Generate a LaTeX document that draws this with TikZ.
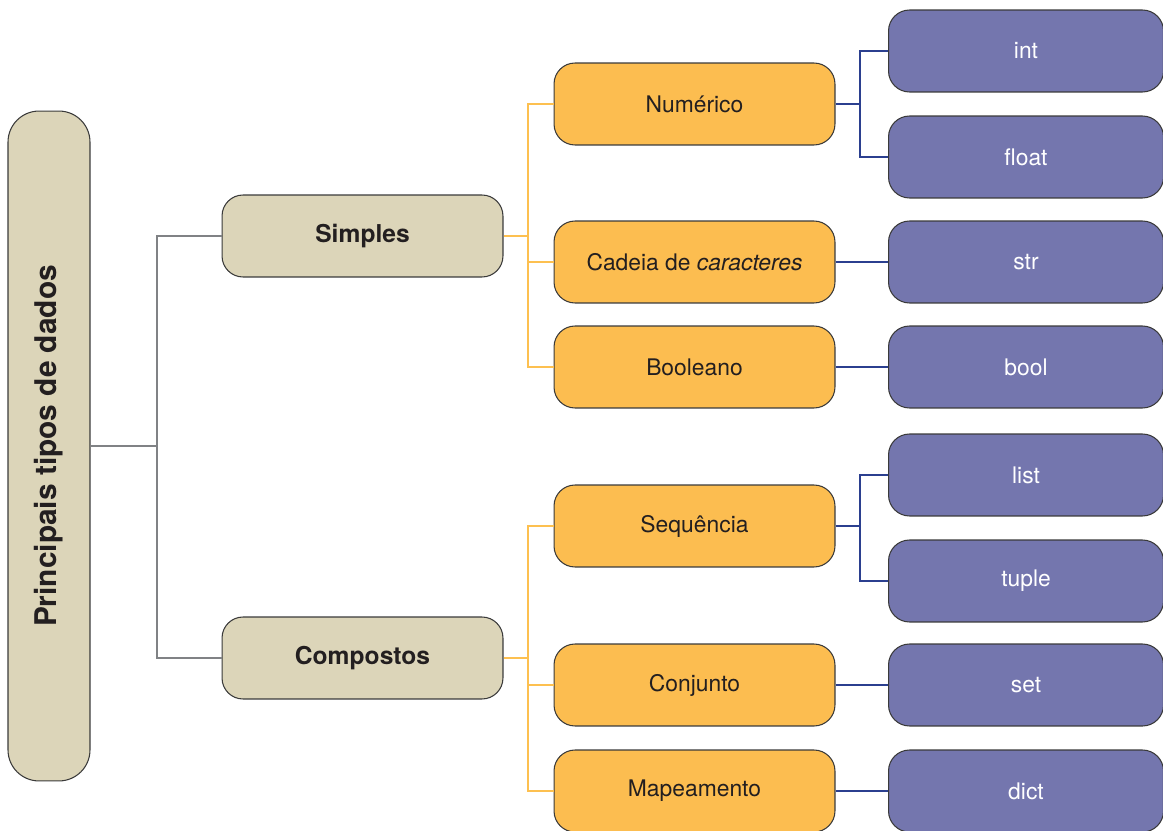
\documentclass[tikz,border=0pt]{standalone}
\usepackage{graphicx}
\usepackage{fontspec}
\setmainfont{TeX Gyre Heros}

\definecolor{rootfill}{HTML}{DCD5B9}
\definecolor{kindfill}{HTML}{FCBD50}
\definecolor{pyfill}{HTML}{7476AE}
\definecolor{boxline}{HTML}{3A3A3A}
\definecolor{graylink}{HTML}{808285}
\definecolor{orangelink}{HTML}{FDC050}
\definecolor{bluelink}{HTML}{2B3F8F}
\definecolor{textdark}{HTML}{231F20}

\begin{document}
\begin{tikzpicture}[x=0.02cm, y=-0.02cm,
    box/.style={draw=boxline, line width=0.6pt, rounded corners=0.42cm, align=center,
      inner sep=0pt, text=textdark, font=\fontsize{13}{15}\selectfont},
    rootbox/.style={box, fill=rootfill, minimum width=1.64cm, minimum height=13.4cm,
      rounded corners=0.62cm, font=\bfseries\fontsize{17}{19}\selectfont},
    groupbox/.style={box, fill=rootfill, minimum width=5.62cm, minimum height=1.64cm,
      font=\bfseries\fontsize{14}{16}\selectfont},
    kindbox/.style={box, fill=kindfill, minimum width=5.62cm, minimum height=1.64cm},
    pybox/.style={box, fill=pyfill, minimum width=5.5cm, minimum height=1.64cm, text=white},
    graylinkline/.style={draw=graylink, line width=1.5pt},
    orangelinkline/.style={draw=orangelink, line width=1.6pt},
    bluelinkline/.style={draw=bluelink, line width=1.6pt}]

    \clip (0, 0) rectangle (1163, 831);

    % root and the two groups
    \node[rootbox] (root) at (49, 446) {\rotatebox{90}{Principais tipos de dados}};
    \node[groupbox] (simples) at (362.5, 236) {Simples};
    \node[groupbox] (compostos) at (362.5, 658) {Compostos};

    % kinds
    \node[kindbox] (numerico) at (694.5, 104) {Numérico};
    \node[kindbox] (cadeia) at (694.5, 262) {Cadeia de \textit{caracteres}};
    \node[kindbox] (booleano) at (694.5, 367) {Booleano};
    \node[kindbox] (sequencia) at (694.5, 526) {Sequência};
    \node[kindbox] (conjunto) at (694.5, 685) {Conjunto};
    \node[kindbox] (mapeamento) at (694.5, 791) {Mapeamento};

    % python types
    \node[pybox] (int) at (1026, 51) {int};
    \node[pybox] (float) at (1026, 157) {float};
    \node[pybox] (str) at (1026, 262) {str};
    \node[pybox] (bool) at (1026, 367) {bool};
    \node[pybox] (list) at (1026, 475) {list};
    \node[pybox] (tuple) at (1026, 581) {tuple};
    \node[pybox] (set) at (1026, 685) {set};
    \node[pybox] (dict) at (1026, 791) {dict};

    % connectors
    \coordinate (rootfork) at (157, 446);
    \draw[graylinkline] (root.east) -- (rootfork) |- (simples.west);
    \draw[graylinkline] (rootfork) |- (compostos.west);

    \coordinate (simplesfork) at (528, 236);
    \draw[orangelinkline] (simples.east) -- (simplesfork);
    \foreach \kind in {numerico, cadeia, booleano}
      \draw[orangelinkline] (simplesfork) |- (\kind.west);

    \coordinate (compostosfork) at (528, 658);
    \draw[orangelinkline] (compostos.east) -- (compostosfork);
    \foreach \kind in {sequencia, conjunto, mapeamento}
      \draw[orangelinkline] (compostosfork) |- (\kind.west);

    \coordinate (numericofork) at (860, 104);
    \draw[bluelinkline] (numerico.east) -- (numericofork);
    \draw[bluelinkline] (numericofork) |- (int.west);
    \draw[bluelinkline] (numericofork) |- (float.west);

    \coordinate (sequenciafork) at (860, 526);
    \draw[bluelinkline] (sequencia.east) -- (sequenciafork);
    \draw[bluelinkline] (sequenciafork) |- (list.west);
    \draw[bluelinkline] (sequenciafork) |- (tuple.west);

    \draw[bluelinkline] (cadeia) -- (str);
    \draw[bluelinkline] (booleano) -- (bool);
    \draw[bluelinkline] (conjunto) -- (set);
    \draw[bluelinkline] (mapeamento) -- (dict);
\end{tikzpicture}
\end{document}
